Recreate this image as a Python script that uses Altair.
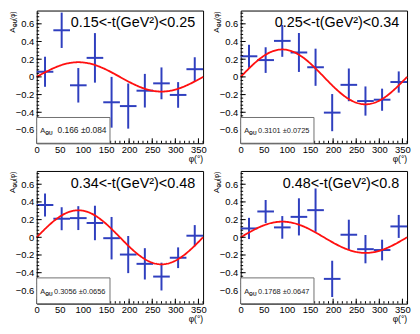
import altair as alt
import pandas as pd

FONT = "Liberation Sans"

# ---- data ----
PHI = [18, 54, 90, 126, 162, 198, 234, 270, 306, 342]   # bin centres (deg)
HALF_BIN = 18
TITLES = ["0.15<-t(GeV²)<0.25", "0.25<-t(GeV²)<0.34",
          "0.34<-t(GeV²)<0.48", "0.48<-t(GeV²)<0.8"]
ASYM = [
    [0.058, 0.527, -0.095, 0.215, -0.287, -0.330, -0.156, -0.073, -0.204, 0.087],
    [0.233, 0.190, 0.407, 0.276, 0.109, -0.404, -0.090, -0.273, -0.258, -0.058],
    [0.365, 0.210, 0.217, 0.162, -0.010, -0.195, -0.300, -0.444, -0.231, 0.018],
    [0.100, 0.292, 0.112, 0.231, 0.307, -0.470, 0.029, -0.134, -0.144, 0.123],
]
ERR = [
    [0.170, 0.200, 0.195, 0.280, 0.287, 0.255, 0.190, 0.180, 0.145, 0.135],
    [0.130, 0.145, 0.180, 0.220, 0.210, 0.210, 0.185, 0.165, 0.125, 0.120],
    [0.130, 0.130, 0.135, 0.195, 0.240, 0.210, 0.177, 0.157, 0.117, 0.120],
    [0.120, 0.130, 0.128, 0.210, 0.245, 0.205, 0.170, 0.160, 0.117, 0.130],
]
FIT_AMP = [0.166, 0.3101, 0.3056, 0.1768]
FIT_ERR = [0.084, 0.0725, 0.0656, 0.0647]
X_TICKS = [0, 50, 100, 150, 200, 250, 300, 350]
Y_TICKS = [-0.6, -0.4, -0.2, 0, 0.2, 0.4, 0.6]

# ---- style ----
W, H = 168, 134
BLUE = "#2f3fbf"
RED = "#ff1010"
STAT_X = [21, 17.5, 17.5, 17.5]
STAT_SIZE = [8.5, 7.5, 7.5, 7.5]

x_scale = alt.Scale(domain=[0, 360], nice=False, zero=False)
y_scale = alt.Scale(domain=[-0.75, 0.75], nice=False, zero=False)

x_axis = alt.Axis(values=X_TICKS, format="d", ticks=False, domain=False, grid=False,
                  title=None, labelFont=FONT, labelFontSize=9.5, labelPadding=1,
                  labelFlush=False, labelColor="black", labelOverlap=False)
y_axis = alt.Axis(values=Y_TICKS,
                  labelExpr="datum.value == 0 ? '0' : format(datum.value, '.1f')",
                  ticks=False, domain=False, grid=False, title=None, labelFont=FONT,
                  labelFontSize=9.5, labelPadding=3, labelColor="black",
                  labelOverlap=False)

ONE = pd.DataFrame({"k": [0]})


def X(field):
    return alt.X(field, scale=x_scale, axis=x_axis)


def Y(field):
    return alt.Y(field, scale=y_scale, axis=y_axis)


def txt(text, x, y, size, align="left", angle=None, weight="normal", color="black"):
    kw = dict(text=text, font=FONT, fontSize=size, align=align,
              baseline="alphabetic", color=color, fontWeight=weight)
    if angle is not None:
        kw["angle"] = angle
    return alt.Chart(ONE).mark_text(**kw).encode(x=alt.value(x), y=alt.value(y))


def panel(i):
    df = pd.DataFrame({"phi": PHI, "a": ASYM[i], "e": ERR[i]})
    base = alt.Chart(df).transform_calculate(
        lo="datum.a - datum.e", hi="datum.a + datum.e",
        xl=f"datum.phi - {HALF_BIN}", xr=f"datum.phi + {HALF_BIN}")
    ybar = base.mark_rule(color=BLUE, strokeWidth=2).encode(
        x=X("phi:Q"), y=Y("lo:Q"), y2="hi:Q")
    xbar = base.mark_rule(color=BLUE, strokeWidth=2).encode(
        x=X("xl:Q"), x2="xr:Q", y=Y("a:Q"))
    curve = alt.Chart(alt.sequence(0, 361, 2, as_="phi")).transform_calculate(
        f=f"{FIT_AMP[i]} * sin(datum.phi * PI / 180)"
    ).mark_line(color=RED, strokeWidth=1.8).encode(x=X("phi:Q"), y=Y("f:Q"))

    ymaj = alt.Chart(pd.DataFrame({"v": Y_TICKS})).mark_rule(color="black", strokeWidth=1).encode(
        y=Y("v:Q"), x=alt.value(0), x2=alt.value(5))
    ymin = alt.Chart(alt.sequence(-0.72, 0.73, 0.04, as_="v")).mark_rule(color="black", strokeWidth=1).encode(
        y=Y("v:Q"), x=alt.value(0), x2=alt.value(2.5))
    xmaj = alt.Chart(pd.DataFrame({"v": X_TICKS})).mark_rule(color="black", strokeWidth=1).encode(
        x=X("v:Q"), y=alt.value(H), y2=alt.value(H - 5))
    xmin = alt.Chart(alt.sequence(0, 361, 10, as_="v")).mark_rule(color="black", strokeWidth=1).encode(
        x=X("v:Q"), y=alt.value(H), y2=alt.value(H - 2.5))

    box = alt.Chart(ONE).mark_rect(fill="white", stroke="#707070", strokeWidth=1).encode(
        x=alt.value(0), x2=alt.value(74), y=alt.value(H - 26), y2=alt.value(H))
    stat_a = txt("A", 3.5, H - 10, 7.5, color="#222")
    stat_sub = txt("ΘU", 8.5, H - 8, 5, weight="bold", color="#222")
    stat_val = txt(f"{FIT_AMP[i]} ±{FIT_ERR[i]}", STAT_X[i], H - 10, STAT_SIZE[i], color="#222")

    title = txt(TITLES[i], W - 8, 17, 14.5, align="right")

    yt1 = txt("(φ)", -22, 1, 6.5, align="right", angle=270)
    yt2 = txt("ΘU", -20, 9.2, 5.2, align="right", angle=270, weight="bold")
    yt3 = txt("A", -22, 17, 8, align="right", angle=270)
    xt = txt("φ(°)", W, H + 19, 8.5, align="right")

    return alt.layer(
        ybar, xbar, curve, ymaj, ymin, xmaj, xmin,
        box, stat_a, stat_sub, stat_val, title, yt1, yt2, yt3, xt
    ).properties(width=W, height=H)


chart = alt.concat(
    *[panel(i) for i in range(4)],
    columns=2,
    spacing={"row": 28, "column": 38},
    bounds="flush",
    padding=0,
    background="white",
).configure_view(stroke="black", strokeWidth=1)

chart.save("out.html", embed_options={"renderer": "svg", "actions": False})
